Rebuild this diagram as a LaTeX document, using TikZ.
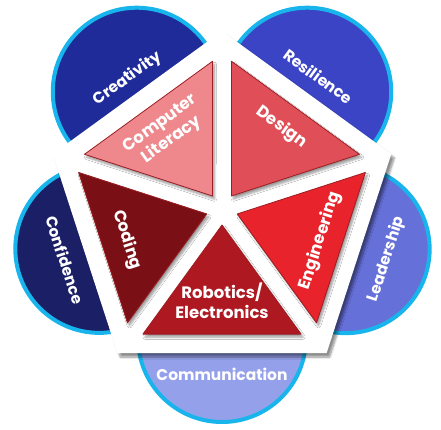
\documentclass[tikz,border=0pt]{standalone}
\usepackage{fontspec}
\setmainfont{Poppins}
\usetikzlibrary{shadows.blur}
\definecolor{ringblue}{HTML}{18B4EC}
\definecolor{creativityblue}{HTML}{1F2B99}
\definecolor{resilienceblue}{HTML}{3C44C6}
\definecolor{leadershipblue}{HTML}{6670D9}
\definecolor{communicationblue}{HTML}{95A0EA}
\definecolor{confidenceblue}{HTML}{1A1F66}
\definecolor{literacyred}{HTML}{EE888C}
\definecolor{designred}{HTML}{E04F57}
\definecolor{engineeringred}{HTML}{E8232B}
\definecolor{roboticsred}{HTML}{AE1820}
\definecolor{codingred}{HTML}{7A1015}
\definecolor{areaedge}{HTML}{9C1D22}

\begin{document}
\begin{tikzpicture}[x=1pt, y=1pt,
  every node/.style={text=white, align=center, inner sep=0pt},
  skill/.style={circle, minimum size=168pt, draw=ringblue, line width=4pt},
  skilltext/.style={font=\bfseries\fontsize{15.5}{18}\selectfont},
  area/.style={draw=areaedge, line width=0.8pt, line join=round,
    blur shadow={shadow xshift=2pt, shadow yshift=-3pt, shadow blur steps=6, shadow opacity=40}},
  areatext/.style={font=\bfseries\fontsize{16.5}{20}\selectfont}]
\useasboundingbox (-222,-220) rectangle (219,209);

\node[skill, fill=creativityblue] (creativity) at (126:145) {};
\node[skill, fill=resilienceblue] (resilience) at (54:145) {};
\node[skill, fill=leadershipblue] (leadership) at (-18:130) {};
\node[skill, fill=communicationblue] (communication) at (-90:129) {};
\node[skill, fill=confidenceblue] (confidence) at (198:129) {};

\fill[white, blur shadow={shadow xshift=3pt, shadow yshift=-4pt, shadow blur steps=8, shadow opacity=45}]
  (90:178) -- (162:178) -- (234:178) -- (306:178) -- (18:178) -- cycle;

\draw[area, fill=literacyred] (126:16) -- (93.7:148) -- (158.3:148) -- cycle;
\draw[area, fill=designred] (54:16) -- (21.7:148) -- (86.3:148) -- cycle;
\draw[area, fill=engineeringred] (-18:16) -- (-50.3:148) -- (14.3:148) -- cycle;
\draw[area, fill=roboticsred] (-90:16) -- (-122.3:148) -- (-57.7:148) -- cycle;
\draw[area, fill=codingred] (198:16) -- (165.7:148) -- (230.3:148) -- cycle;

\node[skilltext, rotate=36] (creativity-label) at (126:161) {Creativity};
\node[skilltext, rotate=-36] (resilience-label) at (54:164) {Resilience};
\node[skilltext, rotate=72] (leadership-label) at (-17:172) {Leadership};
\node[skilltext] (communication-label) at (-90:165) {Communication};
\node[skilltext, rotate=-72] (confidence-label) at (198:165) {Confidence};

\node[areatext, rotate=36] (literacy-label) at (126:95) {Computer\\Literacy};
\node[areatext, rotate=-36] (design-label) at (54:101) {Design};
\node[areatext, rotate=72] (engineering-label) at (-18:103) {Engineering};
\node[areatext] (robotics-label) at (-90:92) {Robotics/\\Electronics};
\node[areatext, rotate=-72] (coding-label) at (198:100) {Coding};
\end{tikzpicture}
\end{document}
